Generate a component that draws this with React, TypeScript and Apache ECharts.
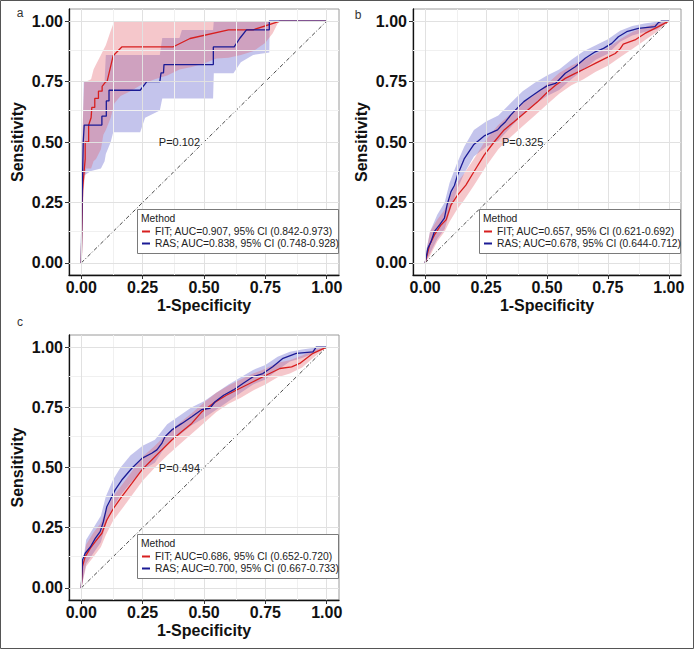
import { useEffect, useRef } from "react";
import * as echarts from "echarts";

// ---------- data ----------
const tickValues = [0, 0.25, 0.5, 0.75, 1];
const minorValues = [0.125, 0.375, 0.625, 0.875];
const tickLabels = ["0.00", "0.25", "0.50", "0.75", "1.00"];
const panelLetters = ["a", "b", "c"];
const xTitle = "1-Specificity";
const yTitle = "Sensitivity";
const legendTitle = "Method";
const pValues = ["P=0.102", "P=0.325", "P=0.494"];
const pPosition = [0.4, 0.5];

const legendA = ["FIT; AUC=0.907, 95% CI (0.842-0.973)", "RAS; AUC=0.838, 95% CI (0.748-0.928)"];
const legendB = ["FIT; AUC=0.657, 95% CI (0.621-0.692)", "RAS; AUC=0.678, 95% CI (0.644-0.712)"];
const legendC = ["FIT; AUC=0.686, 95% CI (0.652-0.720)", "RAS; AUC=0.700, 95% CI (0.667-0.733)"];

// panel a ROC curves [1-specificity, sensitivity]
const aFit = [
  [0, 0], [0.005, 0.3], [0.016, 0.43], [0.016, 0.5], [0.03, 0.5], [0.03, 0.57], [0.04, 0.6],
  [0.043, 0.643], [0.055, 0.643], [0.055, 0.68], [0.07, 0.68], [0.07, 0.71], [0.085, 0.71],
  [0.085, 0.73], [0.1, 0.75], [0.105, 0.75], [0.13, 0.857], [0.165, 0.893], [0.373, 0.893],
  [0.443, 0.928], [0.6, 0.964], [0.7, 0.964], [0.81, 1], [1, 1],
];
const aRas = [
  [0, 0], [0.003, 0.25], [0.008, 0.5], [0.012, 0.57], [0.084, 0.57], [0.084, 0.607], [0.102, 0.607],
  [0.102, 0.67], [0.113, 0.67], [0.113, 0.714], [0.24, 0.714], [0.267, 0.75], [0.32, 0.75],
  [0.325, 0.786], [0.335, 0.786], [0.337, 0.82], [0.538, 0.82], [0.538, 0.893], [0.623, 0.893],
  [0.646, 0.929], [0.673, 0.964], [0.766, 0.964], [0.766, 1], [1, 1],
];
// confidence bands [x, lower, upper]
const aFitBand = [
  [0, 0, 0.05], [0.005, 0.2, 0.55], [0.012, 0.33, 0.75], [0.02, 0.39, 0.75], [0.04, 0.39, 0.76],
  [0.05, 0.42, 0.8], [0.06, 0.43, 0.82], [0.08, 0.47, 0.86], [0.09, 0.53, 0.88], [0.1, 0.55, 0.9],
  [0.12, 0.6, 0.96], [0.135, 0.66, 1], [0.16, 0.69, 1], [0.2, 0.71, 1], [0.25, 0.74, 1],
  [0.3, 0.76, 1], [0.35, 0.775, 1], [0.4, 0.8, 1], [0.45, 0.81, 1], [0.5, 0.825, 1],
  [0.55, 0.845, 1], [0.6, 0.848, 1], [0.65, 0.86, 1], [0.7, 0.875, 1], [0.75, 0.91, 1],
  [0.78, 0.95, 1], [0.8, 0.99, 1], [0.81, 1, 1],
];
const aRasBand = [
  [0, 0, 0.05], [0.005, 0.2, 0.5], [0.01, 0.36, 0.75], [0.04, 0.38, 0.75], [0.08, 0.39, 0.75],
  [0.095, 0.42, 0.75], [0.1, 0.45, 0.86], [0.12, 0.5, 0.86], [0.13, 0.54, 0.86], [0.24, 0.54, 0.86],
  [0.26, 0.6, 0.86], [0.32, 0.63, 0.86], [0.33, 0.68, 0.93], [0.4, 0.68, 0.93], [0.41, 0.68, 0.963],
  [0.537, 0.68, 0.963], [0.54, 0.784, 1], [0.62, 0.784, 1], [0.65, 0.83, 1], [0.7, 0.86, 1],
  [0.766, 0.87, 1], [0.768, 1, 1],
];

// panel b
const bFit = [
  [0, 0], [0.018, 0.074], [0.038, 0.116], [0.065, 0.157], [0.086, 0.178], [0.106, 0.24],
  [0.133, 0.28], [0.167, 0.322], [0.2, 0.377], [0.242, 0.446], [0.283, 0.5], [0.324, 0.55],
  [0.365, 0.584], [0.405, 0.618], [0.46, 0.665], [0.5, 0.705], [0.535, 0.735], [0.575, 0.763],
  [0.616, 0.784], [0.657, 0.804], [0.698, 0.825], [0.739, 0.846], [0.78, 0.866], [0.8, 0.885],
  [0.813, 0.905], [0.861, 0.922], [0.902, 0.949], [0.957, 0.977], [1, 1],
];
const bRas = [
  [0, 0], [0.011, 0.06], [0.024, 0.088], [0.038, 0.13], [0.059, 0.157], [0.079, 0.185],
  [0.09, 0.24], [0.106, 0.295], [0.12, 0.32], [0.133, 0.364], [0.16, 0.43], [0.2, 0.49],
  [0.242, 0.525], [0.297, 0.55], [0.31, 0.565], [0.33, 0.584], [0.35, 0.61], [0.378, 0.64],
  [0.405, 0.667], [0.433, 0.687], [0.473, 0.715], [0.5, 0.732], [0.535, 0.742], [0.575, 0.784],
  [0.616, 0.811], [0.657, 0.846], [0.698, 0.873], [0.732, 0.887], [0.766, 0.908], [0.793, 0.935],
  [0.827, 0.956], [0.875, 0.97], [0.943, 0.977], [0.957, 0.994], [0.97, 1], [1, 1],
];
const bFitBand = [
  [0, 0, 0.02], [0.02, 0.03, 0.13], [0.05, 0.09, 0.18], [0.08, 0.13, 0.22], [0.1, 0.17, 0.27],
  [0.13, 0.22, 0.33], [0.16, 0.26, 0.37], [0.2, 0.32, 0.43], [0.25, 0.4, 0.51], [0.3, 0.47, 0.57],
  [0.35, 0.52, 0.615], [0.4, 0.565, 0.66], [0.45, 0.61, 0.695], [0.5, 0.655, 0.74],
  [0.55, 0.7, 0.785], [0.6, 0.735, 0.815], [0.65, 0.76, 0.84], [0.7, 0.79, 0.865],
  [0.75, 0.815, 0.89], [0.8, 0.85, 0.925], [0.85, 0.885, 0.955], [0.9, 0.92, 0.975],
  [0.95, 0.955, 0.99], [1, 1, 1],
];
const bRasBand = [
  [0, 0, 0.03], [0.02, 0.04, 0.13], [0.05, 0.1, 0.2], [0.08, 0.14, 0.25], [0.1, 0.21, 0.33],
  [0.13, 0.3, 0.41], [0.16, 0.37, 0.48], [0.2, 0.44, 0.55], [0.25, 0.48, 0.585], [0.3, 0.505, 0.61],
  [0.35, 0.56, 0.66], [0.4, 0.615, 0.71], [0.45, 0.655, 0.745], [0.5, 0.69, 0.775],
  [0.55, 0.715, 0.8], [0.6, 0.76, 0.84], [0.65, 0.8, 0.875], [0.7, 0.84, 0.9], [0.75, 0.865, 0.925],
  [0.8, 0.915, 0.96], [0.85, 0.94, 0.98], [0.9, 0.955, 0.99], [0.95, 0.965, 0.997], [1, 1, 1],
];

// panel c
const cFit = [
  [0, 0], [0.005, 0.09], [0.016, 0.13], [0.037, 0.165], [0.057, 0.192], [0.084, 0.227],
  [0.104, 0.282], [0.131, 0.33], [0.165, 0.379], [0.206, 0.434], [0.247, 0.49], [0.287, 0.531],
  [0.328, 0.573], [0.369, 0.614], [0.41, 0.649], [0.45, 0.683], [0.49, 0.73], [0.537, 0.766],
  [0.591, 0.8], [0.645, 0.828], [0.7, 0.856], [0.755, 0.884], [0.809, 0.911], [0.857, 0.918],
  [0.89, 0.932], [0.944, 0.974], [1, 1],
];
const cRas = [
  [0, 0], [0.005, 0.116], [0.016, 0.144], [0.037, 0.17], [0.057, 0.206], [0.077, 0.234],
  [0.09, 0.275], [0.104, 0.337], [0.118, 0.365], [0.138, 0.407], [0.165, 0.448], [0.206, 0.497],
  [0.247, 0.538], [0.287, 0.559], [0.308, 0.573], [0.328, 0.6], [0.341, 0.628], [0.369, 0.656],
  [0.41, 0.683], [0.45, 0.711], [0.49, 0.74], [0.524, 0.746], [0.545, 0.773], [0.58, 0.8],
  [0.62, 0.822], [0.66, 0.85], [0.7, 0.877], [0.74, 0.89], [0.78, 0.918], [0.822, 0.953],
  [0.876, 0.974], [0.944, 0.98], [0.957, 1], [1, 1],
];
const cFitBand = [
  [0, 0, 0.05], [0.02, 0.09, 0.18], [0.05, 0.13, 0.23], [0.08, 0.17, 0.27], [0.1, 0.22, 0.32],
  [0.13, 0.28, 0.38], [0.16, 0.32, 0.42], [0.2, 0.375, 0.475], [0.25, 0.445, 0.545],
  [0.3, 0.5, 0.59], [0.35, 0.55, 0.64], [0.4, 0.595, 0.685], [0.45, 0.64, 0.725],
  [0.5, 0.685, 0.77], [0.55, 0.73, 0.81], [0.6, 0.765, 0.84], [0.65, 0.79, 0.865],
  [0.7, 0.82, 0.89], [0.75, 0.845, 0.91], [0.8, 0.875, 0.935], [0.85, 0.89, 0.945],
  [0.9, 0.915, 0.965], [0.95, 0.96, 0.99], [1, 1, 1],
];
const cRasBand = [
  [0, 0, 0.06], [0.02, 0.1, 0.2], [0.05, 0.145, 0.25], [0.08, 0.19, 0.3], [0.1, 0.265, 0.38],
  [0.13, 0.335, 0.45], [0.16, 0.385, 0.5], [0.2, 0.435, 0.55], [0.25, 0.49, 0.59],
  [0.3, 0.52, 0.615], [0.35, 0.6, 0.68], [0.4, 0.635, 0.715], [0.45, 0.675, 0.75],
  [0.5, 0.705, 0.775], [0.55, 0.74, 0.81], [0.6, 0.775, 0.845], [0.65, 0.81, 0.875],
  [0.7, 0.845, 0.905], [0.75, 0.865, 0.925], [0.8, 0.905, 0.96], [0.85, 0.94, 0.98],
  [0.9, 0.955, 0.99], [0.95, 0.975, 0.997], [1, 1, 1],
];
const diagonal = [[0, 0], [1, 1]];

// ---------- layout & style ----------
const FONT = "'Liberation Sans', Arial, Helvetica, sans-serif";
const RED = "#d71f1f";
const BLUE = "#1b1b95";
const RED_FILL = "rgba(226, 100, 110, 0.36)";
const BLUE_FILL = "rgba(100, 100, 205, 0.38)";

const panels = [
  { grid: { left: 69, top: 9, width: 270, height: 266 }, box: { x: 137, y: 209, w: 201, h: 44 }, letter: [20, 13],
    fit: aFit, ras: aRas, fitBand: aFitBand, rasBand: aRasBand, legend: legendA },
  { grid: { left: 413, top: 9, width: 268, height: 266 }, box: { x: 479, y: 209, w: 201, h: 44 }, letter: [358, 15],
    fit: bFit, ras: bRas, fitBand: bFitBand, rasBand: bRasBand, legend: legendB },
  { grid: { left: 69, top: 335, width: 270, height: 265 }, box: { x: 137, y: 534, w: 201, h: 44 }, letter: [20, 322],
    fit: cFit, ras: cRas, fitBand: cFitBand, rasBand: cRasBand, legend: legendC },
];

function fmtTick(v: number) {
  const i = tickValues.findIndex((t) => Math.abs(t - v) < 1e-9);
  return i >= 0 ? tickLabels[i] : "";
}

function bandSeries(gi: number, band: number[][], fill: string, name: string, z: number) {
  return {
    type: "custom",
    name,
    xAxisIndex: gi,
    yAxisIndex: gi,
    silent: true,
    z,
    clip: false,
    data: [[0, 0]],
    renderItem: (_params: any, api: any) => {
      const upper = band.map((b) => api.coord([b[0], b[2]]));
      const lower = band.slice().reverse().map((b) => api.coord([b[0], b[1]]));
      return { type: "polygon", shape: { points: upper.concat(lower) }, style: { fill } };
    },
  };
}

function buildOption() {
  const grid: any[] = [];
  const xAxis: any[] = [];
  const yAxis: any[] = [];
  const series: any[] = [];
  const legend: any[] = [];
  const graphic: any[] = [
    { type: "rect", shape: { x: 0.5, y: 0.5, width: 693, height: 648 }, style: { fill: "none", stroke: "#555", lineWidth: 1 }, z: 50 },
  ];

  panels.forEach((p, gi) => {
    grid.push({ ...p.grid, show: true, borderColor: "#9a9a9a", borderWidth: 1, backgroundColor: "#fff" });
    const common = {
      gridIndex: gi,
      type: "value",
      min: -0.05,
      max: 1.05,
      splitLine: { show: false },
      axisLine: { show: true, onZero: false, lineStyle: { color: "#111", width: 1.3 } },
      axisTick: { show: true, customValues: tickValues, length: 4, lineStyle: { color: "#333", width: 1 } },
      axisLabel: {
        customValues: tickValues,
        formatter: (v: number) => fmtTick(v),
        fontSize: 16,
        fontWeight: "bold",
        color: "#111",
        fontFamily: FONT,
      },
      nameLocation: "middle",
      nameTextStyle: { fontSize: 16, fontWeight: "bold", color: "#111", fontFamily: FONT },
    };
    xAxis.push({ ...common, name: xTitle, nameGap: 22, axisLabel: { ...common.axisLabel, margin: 4 } });
    yAxis.push({ ...common, name: yTitle, nameGap: 44, nameRotate: 90, axisLabel: { ...common.axisLabel, margin: 6 } });

    // grid lines (major and minor) drawn through the axes' scales
    series.push({
      type: "line",
      name: "grid" + gi,
      xAxisIndex: gi,
      yAxisIndex: gi,
      data: [[0, 0]],
      symbol: "none",
      silent: true,
      z: 0,
      lineStyle: { opacity: 0 },
      markLine: {
        silent: true,
        symbol: ["none", "none"],
        label: { show: false },
        animation: false,
        data: [
          ...minorValues.map((v) => ({ xAxis: v, lineStyle: { color: "#f0f0f0", width: 1, type: "solid" } })),
          ...minorValues.map((v) => ({ yAxis: v, lineStyle: { color: "#f0f0f0", width: 1, type: "solid" } })),
          ...tickValues.map((v) => ({ xAxis: v, lineStyle: { color: "#e1e1e1", width: 1, type: "solid" } })),
          ...tickValues.map((v) => ({ yAxis: v, lineStyle: { color: "#e1e1e1", width: 1, type: "solid" } })),
        ],
      },
    });

    series.push(bandSeries(gi, p.rasBand, BLUE_FILL, "rasBand" + gi, 1));
    series.push(bandSeries(gi, p.fitBand, RED_FILL, "fitBand" + gi, 1.5));

    series.push({
      type: "line",
      name: "diag" + gi,
      xAxisIndex: gi,
      yAxisIndex: gi,
      data: diagonal,
      symbol: "none",
      silent: true,
      z: 2,
      lineStyle: { color: "#333", width: 0.9, type: [4, 2, 1, 2] },
      markPoint: {
        symbol: "rect",
        symbolSize: 1,
        itemStyle: { color: "rgba(0,0,0,0)" },
        label: { show: true, position: "inside", formatter: pValues[gi], fontSize: 11, color: "#222", fontFamily: FONT },
        data: [{ coord: pPosition, name: "P" }],
      },
    });

    series.push({
      type: "line",
      name: p.legend[0],
      xAxisIndex: gi,
      yAxisIndex: gi,
      data: p.fit,
      symbol: "none",
      z: 3,
      itemStyle: { color: RED },
      lineStyle: { color: RED, width: 1.3 },
    });
    series.push({
      type: "line",
      name: p.legend[1],
      xAxisIndex: gi,
      yAxisIndex: gi,
      data: p.ras,
      symbol: "none",
      z: 4,
      itemStyle: { color: BLUE },
      lineStyle: { color: BLUE, width: 1.3 },
    });

    // legend box
    graphic.push({
      type: "rect",
      shape: { x: p.box.x + 0.5, y: p.box.y + 0.5, width: p.box.w, height: p.box.h },
      style: { fill: "#fff", stroke: "#7a7a7a", lineWidth: 1 },
      z: 10,
    });
    graphic.push({
      type: "text",
      x: p.box.x + 4,
      y: p.box.y + 9,
      style: { text: legendTitle, fontSize: 10.3, fontFamily: FONT, fill: "#222", align: "left", verticalAlign: "middle" },
      z: 11,
    });
    graphic.push({
      type: "text",
      x: p.letter[0],
      y: p.letter[1],
      style: { text: panelLetters[gi], fontSize: 12, fontFamily: FONT, fill: "#333", align: "center", verticalAlign: "middle" },
      z: 11,
    });
    legend.push({
      left: p.box.x + 5,
      top: p.box.y + 16.5,
      orient: "vertical",
      data: p.legend,
      icon: "rect",
      itemWidth: 8,
      itemHeight: 2,
      itemGap: 0,
      padding: 0,
      selectedMode: false,
      z: 20,
      textStyle: { fontSize: 10.3, lineHeight: 12, color: "#222", fontFamily: FONT },
    });
  });

  return { animation: false, backgroundColor: "#fff", grid, xAxis, yAxis, series, legend, graphic };
}

export default function App() {
  const ref = useRef<HTMLDivElement | null>(null);
  useEffect(() => {
    if (!ref.current) return;
    const chart = echarts.init(ref.current, undefined, { renderer: "svg" });
    chart.setOption(buildOption() as any);
    return () => chart.dispose();
  }, []);
  return <div ref={ref} style={{ position: "fixed", left: 0, top: 0, width: 694, height: 649 }} />;
}
